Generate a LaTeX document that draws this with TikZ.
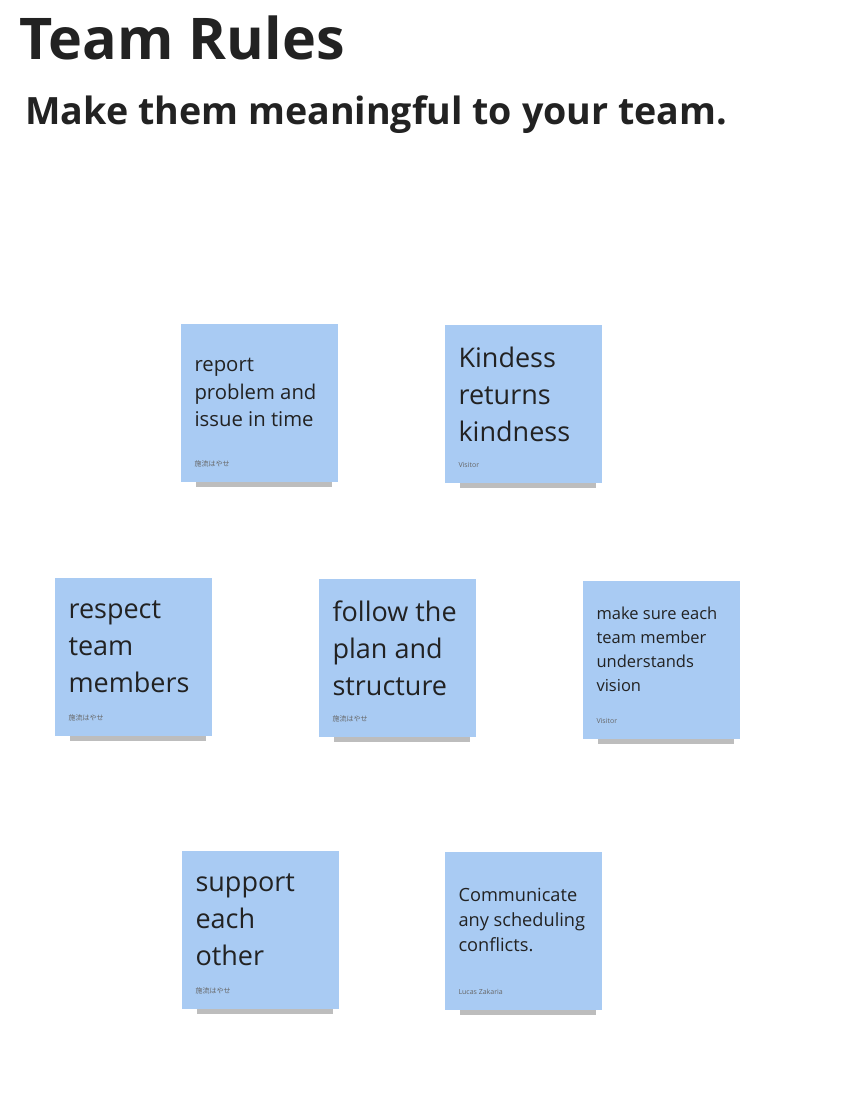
\documentclass[tikz,border=0pt]{standalone}
\usepackage{fontspec}
\setmainfont{Open Sans}
\newfontfamily\cjk{Noto Sans CJK JP}
\usetikzlibrary{positioning,shadows}
\definecolor{notebg}{HTML}{A9CBF3}
\definecolor{ink}{HTML}{222222}

\begin{document}
\begin{tikzpicture}[x=1pt,y=-1pt,
  sticky/.style={fill=notebg,minimum width=157pt,minimum height=158pt,anchor=north west,inner sep=0pt,
    drop shadow={shadow xshift=5pt,shadow yshift=-19pt,shadow scale=0.86,opacity=0.3,fill=black!85}},
  big/.style={anchor=north west,align=left,text=ink,font=\fontsize{27}{37}\selectfont},
  mid/.style={anchor=north west,align=left,text=ink,font=\fontsize{20.3}{27.5}\selectfont},
  small/.style={anchor=north west,align=left,text=ink,font=\fontsize{16.5}{24}\selectfont},
  smallb/.style={anchor=north west,align=left,text=ink,font=\fontsize{18.2}{25}\selectfont},
  author/.style={anchor=south west,text=black!60,font=\fontsize{7}{8}\selectfont}]
  \useasboundingbox (0,0) rectangle (846,1108);
  \node[anchor=west,text=ink,font=\bfseries\fontsize{57.5}{60}\selectfont] (title) at (16,38) {Team Rules};
  \node[anchor=west,text=ink,font=\bfseries\fontsize{37.6}{42}\selectfont] (sub) at (22,115) {Make them meaningful to your team.};
  % row 1
  \node[sticky] (n1) at (181,324) {};
  \node[mid] (t1) at ([shift={(10,31)}]n1.north west) {report\\problem and\\issue in time};
  \node[author] (a1) at ([shift={(10,-12)}]n1.south west) {\cjk 施流はやせ};
  \node[sticky] (n2) at (445,325) {};
  \node[big] (t2) at ([shift={(10,18)}]n2.north west) {Kindess\\returns\\kindness};
  \node[author] (a2) at ([shift={(10,-12)}]n2.south west) {Visitor};
  % row 2
  \node[sticky] (n3) at (55,578) {};
  \node[big] (t3) at ([shift={(10,19)}]n3.north west) {respect\\team\\members};
  \node[author] (a3) at ([shift={(10,-12)}]n3.south west) {\cjk 施流はやせ};
  \node[sticky] (n4) at (319,579) {};
  \node[big] (t4) at ([shift={(10,18)}]n4.north west) {follow the\\plan and\\structure};
  \node[author] (a4) at ([shift={(10,-12)}]n4.south west) {\cjk 施流はやせ};
  \node[sticky] (n5) at (583,581) {};
  \node[small] (t5) at ([shift={(10,22)}]n5.north west) {make sure each\\team member\\understands\\vision};
  \node[author] (a5) at ([shift={(10,-12)}]n5.south west) {Visitor};
  % row 3
  \node[sticky] (n6) at (182,851) {};
  \node[big] (t6) at ([shift={(10,19)}]n6.north west) {support\\each\\other};
  \node[author] (a6) at ([shift={(10,-12)}]n6.south west) {\cjk 施流はやせ};
  \node[sticky] (n7) at (445,852) {};
  \node[smallb] (t7) at ([shift={(10,33)}]n7.north west) {Communicate\\any scheduling\\conflicts.};
  \node[author] (a7) at ([shift={(10,-12)}]n7.south west) {Lucas Zakaria};
\end{tikzpicture}
\end{document}
